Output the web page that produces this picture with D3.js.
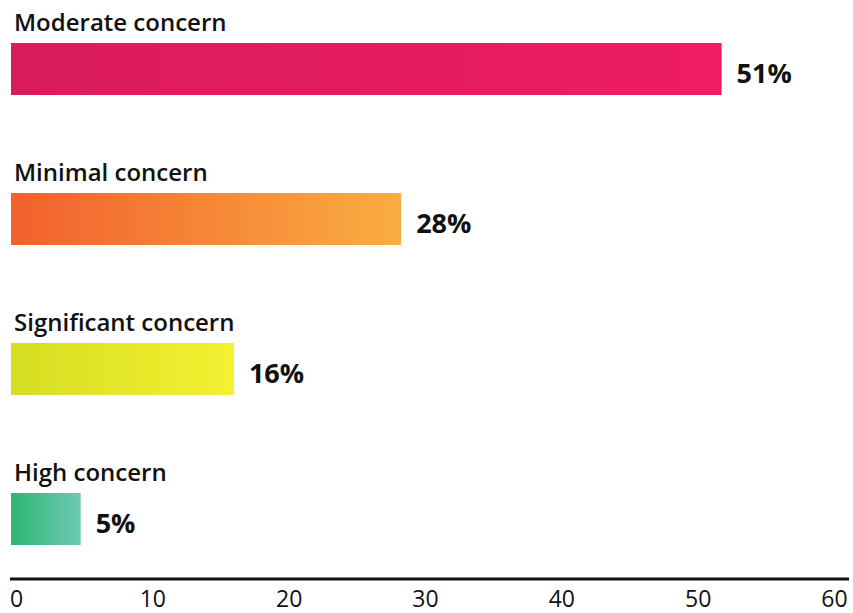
<!DOCTYPE html>
<html>
<head>
<meta charset="utf-8">
<script src="https://cdn.jsdelivr.net/npm/d3@7"></script>
<style>
  html, body { margin: 0; padding: 0; background: #fff; }
  svg { display: block; font-family: "Open Sans", Lato, sans-serif; }
</style>
</head>
<body>
<div id="chart"></div>
<script>
const CATEGORIES = ['Moderate concern', 'Minimal concern', 'Significant concern', 'High concern'];
const VALUES = [51, 28, 16, 5];
const GRADIENTS = [
  ['#d91b5c', '#ee1f64'],
  ['#f2602d', '#faad42'],
  ['#d5de22', '#f5f031'],
  ['#2bb673', '#70c9b2']
];
const TICKS = [0, 10, 20, 30, 40, 50, 60];

const width = 853;
const height = 613;
const MARGIN = { top: 0, right: 6, bottom: 34, left: 11 };

const svg = d3.select('#chart')
  .append('svg')
  .attr('width', width)
  .attr('height', height);

const defs = svg.append('defs');

const blur = defs.append('filter').attr('id', 'soft')
  .attr('x', '-5%').attr('y', '-10%').attr('width', '110%').attr('height', '120%');
blur.append('feGaussianBlur').attr('stdDeviation', 0.7);

GRADIENTS.forEach((c, i) => {
  const lg = defs.append('linearGradient').attr('id', `grad${i}`)
    .attr('x1', '0%').attr('x2', '100%').attr('y1', '0%').attr('y2', '0%');
  lg.append('stop').attr('offset', '0%').attr('stop-color', c[0]);
  lg.append('stop').attr('offset', '100%').attr('stop-color', c[1]);
});

const x = d3.scaleLinear().domain([0, 60]).range([MARGIN.left, 847]);
// tick labels sit slightly inside the ends of the axis
const labelX = d3.scaleLinear().domain([0, 60]).range([16, 834]);

const y = d3.scaleBand().domain(CATEGORIES).range([12, 612]);

const barTop = 31;
const barH = 52;

const rows = svg.selectAll('g.row')
  .data(CATEGORIES.map((c, i) => ({ cat: c, val: VALUES[i], i })))
  .enter()
  .append('g')
  .attr('class', 'row')
  .attr('transform', d => `translate(0,${y(d.cat)})`);

rows.append('text')
  .attr('x', 14)
  .attr('y', 19)
  .attr('font-size', '24px')
  .attr('font-weight', 600)
  .attr('fill', '#111')
  .text(d => d.cat);

rows.append('rect')
  .attr('x', x(0))
  .attr('y', barTop)
  .attr('width', d => x(d.val) - x(0))
  .attr('height', barH)
  .attr('fill', d => `url(#grad${d.i})`)
  .attr('filter', 'url(#soft)');

rows.append('text')
  .attr('x', d => x(d.val) + 15)
  .attr('y', barTop + barH / 2 + 14)
  .attr('font-size', '27px')
  .attr('font-weight', 700)
  .attr('fill', '#111')
  .text(d => `${d.val}%`);

const axisY = 579;
const axis = svg.append('g')
  .attr('transform', `translate(0,${axisY})`)
  .call(d3.axisBottom(x).tickValues(TICKS).tickSize(0).tickPadding(12));

axis.select('.domain')
  .attr('stroke', '#111')
  .attr('stroke-width', 3)
  .attr('d', `M${x(0) - 1},0H849`);

axis.selectAll('.tick text')
  .attr('x', d => labelX(d) - x(d))
  .attr('dy', '0.71em')
  .attr('font-family', '"Open Sans", Lato, sans-serif')
  .attr('font-size', '23px')
  .attr('fill', '#111');
</script>
</body>
</html>
